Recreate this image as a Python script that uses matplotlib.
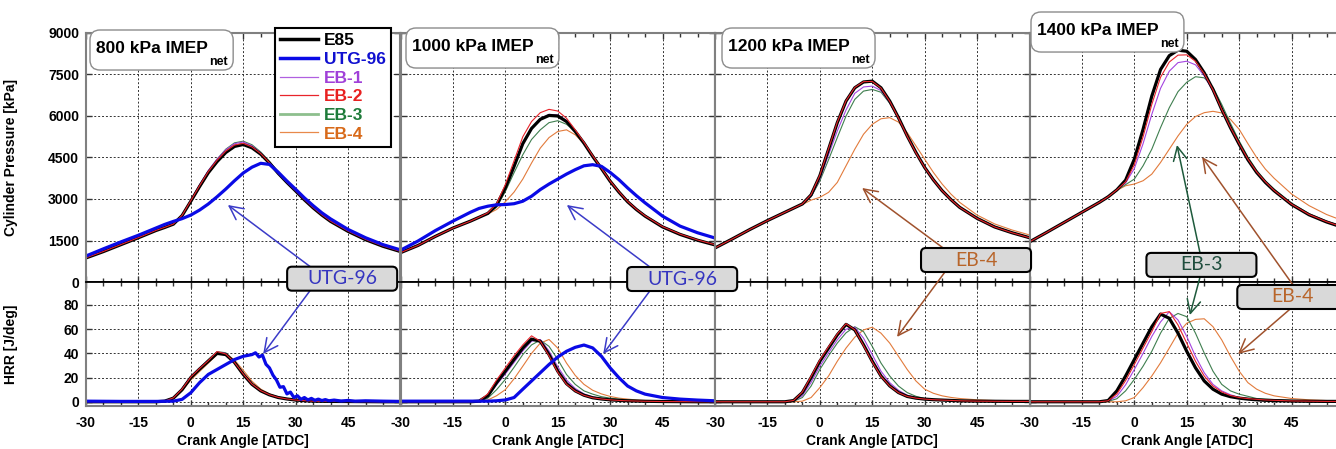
import matplotlib
matplotlib.use("Agg")
import matplotlib.pyplot as plt
from matplotlib.lines import Line2D
from matplotlib.patches import FancyBboxPatch, ConnectionPatch
from matplotlib.text import Annotation
from matplotlib.transforms import Bbox
from matplotlib.ticker import MultipleLocator

plt.rcParams['font.family'] = ['Liberation Sans', 'DejaVu Sans']
plt.rcParams['font.weight'] = 'bold'
plt.rcParams['axes.unicode_minus'] = False

# crank angle grid [deg ATDC]
CA = [-30, -25, -20, -15, -10, -7.5, -5, -2.5, 0, 2.5, 5, 7.5, 10, 12.5, 15, 17.5,
      20, 22.5, 25, 27.5, 30, 32.5, 35, 37.5, 40, 45, 50, 55, 60]

LOADS = ["800", "1000", "1200", "1400"]
FUELS = ["E85", "UTG-96", "EB-1", "EB-2", "EB-3", "EB-4"]

# ---- cylinder pressure [kPa] ----
P800_E85 = [870, 1100, 1350, 1600, 1860, 1970, 2090, 2400, 2920, 3450, 3950, 4350, 4680, 4900, 4970, 4850,
            4620, 4300, 3930, 3600, 3290, 2970, 2680, 2420, 2190, 1830, 1530, 1290, 1100]
P800_EB1 = [880, 1110, 1360, 1610, 1870, 1980, 2100, 2420, 2960, 3520, 4030, 4440, 4780, 5000, 5060, 4920,
            4670, 4330, 3950, 3620, 3300, 2980, 2690, 2430, 2200, 1840, 1540, 1300, 1110]
P800_EB2 = [875, 1105, 1355, 1605, 1865, 1975, 2095, 2410, 2940, 3480, 3990, 4400, 4730, 4950, 5010, 4880,
            4640, 4310, 3940, 3610, 3300, 2980, 2690, 2430, 2200, 1840, 1540, 1300, 1105]
P800_EB3 = [885, 1115, 1365, 1615, 1875, 1985, 2105, 2420, 2950, 3500, 4020, 4440, 4800, 5030, 5090, 4960,
            4700, 4360, 3980, 3640, 3320, 3000, 2700, 2440, 2210, 1850, 1545, 1305, 1115]
P800_EB4 = [880, 1110, 1360, 1610, 1870, 1980, 2100, 2390, 2880, 3400, 3910, 4320, 4660, 4890, 4980, 4880,
            4660, 4340, 3970, 3640, 3320, 3000, 2710, 2450, 2220, 1850, 1550, 1310, 1115]
P800_UTG = [940, 1200, 1450, 1690, 1950, 2080, 2190, 2290, 2420, 2600, 2820, 3080, 3360, 3660, 3940, 4150,
            4290, 4250, 3970, 3650, 3350, 3040, 2760, 2500, 2280, 1900, 1600, 1350, 1160]

P1000_E85 = [1060, 1320, 1650, 1950, 2200, 2340, 2480, 2780, 3400, 4180, 5000, 5550, 5880, 6020, 6000, 5800,
             5440, 5020, 4540, 4100, 3640, 3250, 2900, 2620, 2380, 1990, 1720, 1510, 1340]
P1000_EB1 = [1065, 1325, 1655, 1955, 2205, 2345, 2485, 2770, 3380, 4150, 4980, 5560, 5910, 6060, 6040, 5840,
             5470, 5040, 4550, 4110, 3650, 3260, 2910, 2630, 2390, 2000, 1730, 1520, 1350]
P1000_EB2 = [1060, 1320, 1650, 1950, 2200, 2345, 2500, 2830, 3520, 4380, 5250, 5800, 6120, 6240, 6180, 5920,
             5500, 5050, 4560, 4110, 3650, 3260, 2910, 2630, 2390, 2000, 1730, 1520, 1350]
P1000_EB3 = [1065, 1325, 1655, 1955, 2205, 2340, 2470, 2700, 3270, 3950, 4600, 5150, 5500, 5760, 5830, 5700,
             5440, 5040, 4560, 4110, 3650, 3260, 2910, 2630, 2390, 2000, 1730, 1520, 1350]
P1000_EB4 = [1070, 1330, 1660, 1960, 2210, 2340, 2460, 2620, 2900, 3250, 3720, 4300, 4840, 5220, 5440, 5500,
             5320, 5000, 4600, 4140, 3680, 3290, 2930, 2650, 2400, 2010, 1730, 1520, 1350]
P1000_UTG = [1150, 1480, 1860, 2200, 2520, 2660, 2740, 2790, 2800, 2830, 2920, 3100, 3340, 3540, 3720, 3900,
             4060, 4200, 4240, 4180, 3960, 3700, 3400, 3120, 2860, 2380, 2020, 1780, 1590]

P1200_E85 = [1230, 1560, 1900, 2220, 2520, 2670, 2820, 3150, 3840, 4800, 5760, 6540, 7020, 7230, 7260, 7020,
             6540, 5940, 5280, 4680, 4140, 3690, 3300, 2980, 2700, 2300, 1990, 1780, 1600]
P1200_EB1 = [1235, 1565, 1905, 2225, 2525, 2670, 2815, 3100, 3720, 4600, 5460, 6220, 6820, 7050, 7080, 6920,
             6480, 5920, 5280, 4690, 4150, 3700, 3310, 2990, 2710, 2310, 2000, 1790, 1610]
P1200_EB2 = [1230, 1560, 1900, 2220, 2520, 2670, 2820, 3160, 3860, 4820, 5780, 6550, 7030, 7240, 7250, 7010,
             6530, 5930, 5270, 4670, 4140, 3690, 3300, 2980, 2700, 2300, 1990, 1780, 1600]
P1200_EB3 = [1235, 1565, 1905, 2225, 2525, 2670, 2810, 3080, 3650, 4420, 5220, 6000, 6600, 6900, 6960, 6860,
             6460, 5920, 5290, 4700, 4160, 3710, 3320, 3000, 2720, 2320, 2010, 1800, 1620]
P1200_EB4 = [1240, 1570, 1910, 2230, 2530, 2670, 2800, 2960, 3060, 3240, 3600, 4200, 4800, 5340, 5700, 5900,
             5940, 5780, 5400, 4920, 4440, 3960, 3540, 3180, 2880, 2420, 2100, 1880, 1700]

P1400_E85 = [1450, 1800, 2160, 2520, 2880, 3080, 3330, 3680, 4440, 5520, 6720, 7680, 8180, 8380, 8340, 8040,
             7560, 6960, 6240, 5580, 4980, 4420, 3960, 3600, 3300, 2800, 2430, 2170, 1960]
P1400_EB1 = [1455, 1805, 2165, 2525, 2885, 3080, 3330, 3580, 4100, 5000, 6060, 7000, 7620, 7930, 7980, 7850,
             7450, 6900, 6240, 5600, 5010, 4450, 3990, 3630, 3320, 2820, 2450, 2190, 1980]
P1400_EB2 = [1450, 1800, 2160, 2520, 2880, 3080, 3330, 3620, 4240, 5250, 6420, 7400, 7950, 8200, 8210, 7980,
             7530, 6950, 6240, 5590, 5000, 4440, 3980, 3620, 3310, 2810, 2440, 2180, 1970]
P1400_EB3 = [1455, 1805, 2165, 2525, 2885, 3080, 3320, 3520, 3720, 4200, 4800, 5580, 6300, 6880, 7220, 7420,
             7380, 7040, 6420, 5740, 5100, 4520, 4040, 3660, 3360, 2850, 2470, 2200, 1990]
P1400_EB4 = [1460, 1810, 2170, 2530, 2890, 3080, 3310, 3480, 3540, 3660, 3900, 4320, 4800, 5280, 5700, 5980,
             6120, 6170, 6110, 5880, 5520, 5000, 4500, 4080, 3750, 3180, 2760, 2440, 2200]

# ---- heat release rate [J/deg] ----
H800_E85 = [0, 0, 0, 0, 0, 0.5, 3, 10, 20, 27, 33.5, 40, 39, 32.5, 22.6, 14.4, 9, 5.7, 3.5, 2.3, 1.4, 0.9,
            0.5, 0.4, 0.3, 0.2, 0.1, 0, 0]
H800_EB1 = [0, 0, 0, 0, 0, 0.5, 3.5, 11, 21, 28, 34.5, 41, 40, 33, 23.5, 15, 9.5, 6, 3.7, 2.4, 1.5, 1,
            0.6, 0.4, 0.3, 0.2, 0.1, 0, 0]
H800_EB2 = [0, 0, 0, 0, 0, 0.5, 3.2, 10.5, 20.5, 27.5, 34, 41.5, 39.5, 32.5, 23, 14.6, 9.2, 5.8, 3.6, 2.3,
            1.4, 0.9, 0.5, 0.4, 0.3, 0.2, 0.1, 0, 0]
H800_EB3 = [0, 0, 0, 0, 0, 0.6, 3.5, 11, 21, 28, 35, 41.5, 40.5, 33.5, 24, 15, 9.5, 6, 3.8, 2.5, 1.6, 1,
            0.6, 0.4, 0.3, 0.2, 0.1, 0, 0]
H800_EB4 = [0, 0, 0, 0, 0, 0.3, 2.5, 9, 18, 25, 32, 39, 40, 34.5, 26, 17, 10.5, 6.5, 4, 2.7, 1.8, 1.2,
            0.8, 0.5, 0.4, 0.3, 0.2, 0.1, 0]
# UTG-96 at 800 kPa rings after the peak, so it has its own finer angle list
CA_UTG800 = [-30, -20, -10, -5, -2.5, 0, 2.5, 5, 7.5, 10, 12.5, 15, 17.5, 18.5, 19.5, 20.5, 21.5, 22.5,
             23.5, 24.5, 25.5, 26.5, 27.5, 28.5, 29.5, 30.5, 31.5, 32.5, 33.5, 34.5, 35.5, 36.5, 37.5,
             38.5, 39.5, 41, 43, 45, 47, 50, 55, 60]
H800_UTG = [0.5, 0.3, 0.3, 0.5, 2, 7.5, 15.8, 22.6, 26.7, 30.8, 34.9, 37.6, 39, 40.5, 37, 38.5, 31, 28,
            22, 18, 12, 12.5, 6.5, 8, 3.5, 5, 2, 3.5, 1.5, 2.8, 1.2, 2.2, 1, 1.8, 0.8, 1.4, 0.6, 1.1,
            0.5, 0.8, 0.5, 0.3]

H1000_E85 = [0, 0, 0, 0, 0, 0.5, 5, 15.8, 25.3, 35, 44.4, 51.8, 50, 39, 25.3, 15, 9, 5.4, 3.3, 2.3, 1.6,
             1.1, 0.8, 0.6, 0.4, 0.2, 0.1, 0, 0]
H1000_EB1 = [0, 0, 0, 0, 0, 0.4, 4.5, 14, 23, 32.5, 42, 50, 51.5, 42, 29, 18, 11, 6.5, 4, 2.8, 1.9, 1.3,
             1, 0.7, 0.5, 0.3, 0.1, 0, 0]
H1000_EB2 = [0, 0, 0, 0, 0, 0.8, 6.5, 18, 28, 38, 47, 54.5, 50, 38, 24.5, 14.5, 8.8, 5.3, 3.3, 2.3, 1.6,
             1.1, 0.8, 0.6, 0.4, 0.2, 0.1, 0, 0]
H1000_EB3 = [0, 0, 0, 0, 0, 0.2, 3, 10, 18.5, 28.5, 39, 47, 51, 45.8, 35, 22.6, 14.4, 9, 6.3, 4.2, 3, 2.2,
             1.5, 1.1, 0.8, 0.4, 0.2, 0.1, 0]
H1000_EB4 = [0, 0, 0, 0, 0, 0, 1.5, 5, 10, 19, 29.4, 40, 48.5, 51.5, 44.4, 32, 21.8, 14.4, 9.5, 6.5, 4.4,
             3, 2.2, 1.5, 1, 0.5, 0.3, 0.1, 0]
H1000_UTG = [0.5, 0.5, 0.5, 0.5, 0.5, 0.5, 0.5, 0.8, 1.5, 3.5, 10.4, 17.2, 24, 30.8, 37, 41.7, 45, 46.9,
             44.5, 37.6, 28, 19.9, 13, 9, 6.3, 3.5, 2.2, 1.4, 0.8]

H1200_E85 = [0, 0, 0, 0, 0, 1, 7.6, 20, 33.5, 44.4, 55.3, 64, 59.4, 47.1, 33.5, 21.3, 13.1, 7.6, 4.4, 3,
             2.2, 1.7, 1.4, 1.1, 0.8, 0.5, 0.4, 0.3, 0.3]
H1200_EB1 = [0, 0, 0, 0, 0, 0.6, 5, 16, 29.4, 40.5, 51.2, 60, 61.6, 52.6, 39, 25.3, 15.8, 9.5, 5.4, 3.6,
             2.5, 1.9, 1.5, 1.2, 0.9, 0.6, 0.4, 0.3, 0.3]
H1200_EB2 = [0, 0, 0, 0, 0, 1.1, 8, 21, 34.5, 45.5, 56, 64.5, 59.5, 46.5, 33, 21, 13, 7.5, 4.4, 3, 2.2,
             1.7, 1.4, 1.1, 0.8, 0.5, 0.4, 0.3, 0.3]
H1200_EB3 = [0, 0, 0, 0, 0, 0.4, 3.5, 13, 26.7, 38, 48.5, 57, 62, 58, 45.8, 32, 21.3, 13, 7.6, 4.5, 2.7,
             2, 1.5, 1.2, 1, 0.6, 0.4, 0.3, 0.3]
H1200_EB4 = [0, 0, 0, 0, 0, 0, 0.5, 3.5, 11.7, 21.3, 33.5, 44.4, 53.4, 59.4, 61.6, 56.7, 48.5, 37.6, 26.7,
             17.2, 10.4, 7, 4.9, 3.6, 2.7, 1.6, 1, 0.6, 0.4]

H1400_E85 = [0, 0, 0, 0, 0, 1, 9, 21.3, 34.9, 48.5, 62, 72.5, 69, 56.7, 41.7, 28.1, 17.2, 10.4, 6.3, 4.2,
             3, 2.2, 1.6, 1.2, 1, 0.6, 0.4, 0.3, 0.3]
H1400_EB1 = [0, 0, 0, 0, 0, 0.5, 4.5, 14, 26.7, 40, 54, 66, 74.4, 67.6, 54, 37.6, 24, 14.4, 9, 5.8, 3.5,
             2.7, 2, 1.6, 1.3, 0.8, 0.5, 0.4, 0.3]
H1400_EB2 = [0, 0, 0, 0, 0, 0.8, 6.5, 17.5, 30.8, 44.5, 58, 73, 74.5, 63.5, 48.5, 33.5, 21.3, 13, 8.2, 5.2,
             3.5, 2.6, 2, 1.5, 1.2, 0.7, 0.5, 0.3, 0.3]
H1400_EB3 = [0, 0, 0, 0, 0, 0.3, 2.5, 9, 18.5, 29.4, 41.7, 56.7, 68.9, 73, 70.3, 56.7, 40.3, 25.3, 14.4, 9,
             6.3, 4.5, 2.7, 2.2, 1.8, 1, 0.6, 0.4, 0.3]
H1400_EB4 = [0, 0, 0, 0, 0, 0, 0, 0.8, 3.5, 11.7, 21.3, 32.2, 44.4, 56.7, 64.9, 68.1, 68.6, 62.1, 51.2,
             37.6, 25.3, 15.8, 10.4, 7, 4.9, 2.7, 1.6, 1, 0.7]

P_TICKS = [0, 1500, 3000, 4500, 6000, 7500, 9000]
H_TICKS = [0, 20, 40, 60, 80]
CA_TICKS = [-30, -15, 0, 15, 30, 45]

# styles
LINE_COLOR = {"E85": "black", "UTG-96": "#0a0ae6", "EB-1": "#a444e0", "EB-2": "#e8242b",
              "EB-3": "#3f7f4f", "EB-4": "#e27b3c"}
LINE_WIDTH = {"E85": 2.3, "UTG-96": 2.3, "EB-1": 0.8, "EB-2": 0.8, "EB-3": 0.8, "EB-4": 0.8}
TEXT_COLOR = {"E85": "black", "UTG-96": "#1010d0", "EB-1": "#a040d8", "EB-2": "#e82020",
              "EB-3": "#1e7b3a", "EB-4": "#d86a1a"}
DRAW_ORDER = ["EB-4", "EB-3", "EB-1", "E85", "EB-2", "UTG-96"]

pressure = [
    {"E85": P800_E85, "UTG-96": P800_UTG, "EB-1": P800_EB1, "EB-2": P800_EB2, "EB-3": P800_EB3, "EB-4": P800_EB4},
    {"E85": P1000_E85, "UTG-96": P1000_UTG, "EB-1": P1000_EB1, "EB-2": P1000_EB2, "EB-3": P1000_EB3, "EB-4": P1000_EB4},
    {"E85": P1200_E85, "EB-1": P1200_EB1, "EB-2": P1200_EB2, "EB-3": P1200_EB3, "EB-4": P1200_EB4},
    {"E85": P1400_E85, "EB-1": P1400_EB1, "EB-2": P1400_EB2, "EB-3": P1400_EB3, "EB-4": P1400_EB4},
]
hrr = [
    {"E85": (CA, H800_E85), "UTG-96": (CA_UTG800, H800_UTG), "EB-1": (CA, H800_EB1), "EB-2": (CA, H800_EB2),
     "EB-3": (CA, H800_EB3), "EB-4": (CA, H800_EB4)},
    {"E85": (CA, H1000_E85), "UTG-96": (CA, H1000_UTG), "EB-1": (CA, H1000_EB1), "EB-2": (CA, H1000_EB2),
     "EB-3": (CA, H1000_EB3), "EB-4": (CA, H1000_EB4)},
    {"E85": (CA, H1200_E85), "EB-1": (CA, H1200_EB1), "EB-2": (CA, H1200_EB2), "EB-3": (CA, H1200_EB3),
     "EB-4": (CA, H1200_EB4)},
    {"E85": (CA, H1400_E85), "EB-1": (CA, H1400_EB1), "EB-2": (CA, H1400_EB2), "EB-3": (CA, H1400_EB3),
     "EB-4": (CA, H1400_EB4)},
]

W, H = 1336, 449
fig = plt.figure(figsize=(W / 100, H / 100), dpi=100)

left_px = [86, 400.5, 715, 1029.5]
panel_w = 314.5
top_y0, mid_y, bot_y1 = 33, 282, 406

SPINE_GRAY = "#808080"
GRID = dict(color="#333333", linestyle=(0, (2, 2)), linewidth=0.7)


def style_axes(ax, show_y):
    ax.set_xlim(-30, 60)
    ax.set_xticks(CA_TICKS)
    ax.xaxis.set_minor_locator(MultipleLocator(5))
    ax.grid(True, which="major", **GRID)
    ax.set_axisbelow(True)
    ax.tick_params(axis="both", which="both", direction="in", top=True, right=True,
                   width=1, color="#333333", labelsize=10, pad=5)
    ax.tick_params(which="major", length=4)
    ax.tick_params(which="minor", length=3)
    ax.tick_params(axis="y", which="minor", left=False, right=False)
    for s in ax.spines.values():
        s.set_color(SPINE_GRAY)
        s.set_linewidth(1.5)
    if not show_y:
        ax.tick_params(labelleft=False)


tops, bots = [], []
title_texts = []
for i in range(4):
    x0 = left_px[i] / W
    w = panel_w / W
    ax_t = fig.add_axes([x0, 1 - mid_y / H, w, (mid_y - top_y0) / H])
    ax_b = fig.add_axes([x0, 1 - bot_y1 / H, w, (bot_y1 - mid_y) / H])
    tops.append(ax_t)
    bots.append(ax_b)

    for fuel in DRAW_ORDER:
        if fuel in pressure[i]:
            ax_t.plot(CA, pressure[i][fuel], color=LINE_COLOR[fuel], lw=LINE_WIDTH[fuel])
        if fuel in hrr[i]:
            xs, ys = hrr[i][fuel]
            ax_b.plot(xs, ys, color=LINE_COLOR[fuel], lw=LINE_WIDTH[fuel])

    ax_t.set_ylim(0, 9000)
    ax_t.set_yticks(P_TICKS)
    ax_b.set_ylim(-3.5, 99)
    ax_b.set_yticks(H_TICKS)
    style_axes(ax_t, i == 0)
    style_axes(ax_b, i == 0)
    ax_t.tick_params(labelbottom=False)
    ax_b.tick_params(axis="x", pad=7)
    ax_t.spines["bottom"].set_color("black")
    ax_t.spines["bottom"].set_linewidth(1.3)
    ax_b.spines["top"].set_color("black")
    ax_b.spines["top"].set_linewidth(1.3)
    ax_b.set_xlabel("Crank Angle [ATDC]", fontsize=10, fontweight="bold", labelpad=3)

    # load label: main text plus a dropped "net" subscript, boxed afterwards
    box_left = [90, 406, 722, 1031][i]
    box_top = [30, 28, 28, 12][i]
    t_main = fig.text((box_left + 6) / W, 1 - (box_top + 23) / H, LOADS[i] + " kPa IMEP",
                      ha="left", va="baseline", fontsize=12.5, fontweight="bold", zorder=8)
    t_sub = Annotation("net", xy=(1, 0), xycoords=t_main, xytext=(1.2, -6.5),
                       textcoords="offset points", ha="left", va="baseline",
                       fontsize=9, fontweight="bold", zorder=8)
    fig.add_artist(t_sub)
    title_texts.append((t_main, t_sub, box_left, box_top))

tops[0].set_ylabel("Cylinder Pressure [kPa]", fontsize=10, fontweight="bold")
bots[0].set_ylabel("HRR [J/deg]", fontsize=10, fontweight="bold")
tops[0].yaxis.set_label_coords((18 - 86) / panel_w, 0.5)
bots[0].yaxis.set_label_coords((18 - 86) / panel_w, 0.5)

# legend
handles = [
    Line2D([], [], color="black", lw=2.5),
    Line2D([], [], color="#0a0ae6", lw=2.5),
    Line2D([], [], color="#b060e0", lw=0.9),
    Line2D([], [], color="#e8242b", lw=0.9),
    Line2D([], [], color="#8dbf8d", lw=2),
    Line2D([], [], color="#e8894a", lw=0.9),
]
leg = tops[0].legend(handles, FUELS, loc="upper left", bbox_to_anchor=(0.601, 1.02),
                     borderaxespad=0, fancybox=False, edgecolor="black", framealpha=1,
                     prop={"size": 12.5, "weight": "bold"}, handlelength=2.2, handletextpad=0.3,
                     labelspacing=0.2, borderpad=0.3)
leg.get_frame().set_linewidth(1.5)
leg.set_zorder(20)
for txt, fuel in zip(leg.get_texts(), FUELS):
    txt.set_color(TEXT_COLOR[fuel])

# callout boxes and arrows (figure level so they sit above every panel)
BOX_W, BOX_H = 110 / 3.494, 24 / (249 / 9000)
callouts = [
    # panel, label, text colour, box centre (top axes data)
    (0, "UTG-96", "#3535c0", (43.3, 120)),
    (1, "UTG-96", "#3535c0", (50.6, 108)),
    (2, "EB-4", "#b8652a", (44.7, 795)),
    (3, "EB-3", "#1f4d3d", (19.2, 618)),
    (3, "EB-4", "#b8652a", (45.2, -542)),
]
arrows = [
    # panel, colour, (tail axes, tail), (head axes, head)
    (0, "#3b3bc8", ("t", (34.1, 560)), ("t", (10.6, 2783))),
    (0, "#3b3bc8", ("b", (34.1, 91.8)), ("b", (20.7, 39.5))),
    (1, "#3b3bc8", ("t", (41.4, 540)), ("t", (17.6, 2783))),
    (1, "#3b3bc8", ("b", (41.4, 91.8)), ("b", (28.0, 39.5))),
    (2, "#a0522d", ("t", (35.3, 1229)), ("t", (12.1, 3397))),
    (2, "#a0522d", ("t", (35.8, 361)), ("b", (22.1, 53.6))),
    (3, "#1e5a3c", ("t", (18.8, 1048)), ("t", (12.2, 4951))),
    (3, "#1e5a3c", ("t", (18.8, 181)), ("b", (15.9, 71.7))),
    (3, "#a0522d", ("t", (45.4, -108)), ("t", (19.4, 4517))),
    (3, "#a0522d", ("b", (44.6, 76.7)), ("b", (29.7, 39.5))),
]

for p, col, (ta, tail), (ha_, head) in arrows:
    axA = tops[p] if ta == "t" else bots[p]
    axB = tops[p] if ha_ == "t" else bots[p]
    con = ConnectionPatch(xyA=tail, coordsA=axA.transData, xyB=head, coordsB=axB.transData,
                          arrowstyle="->,head_length=0.7,head_width=0.35", mutation_scale=14,
                          color=col, lw=1.1, shrinkA=0, shrinkB=0, zorder=4)
    fig.add_artist(con)

for p, label, tcol, (cx, cy) in callouts:
    ax = tops[p]
    box = FancyBboxPatch((cx - BOX_W / 2, cy - BOX_H / 2), BOX_W, BOX_H,
                         boxstyle="round,pad=0,rounding_size=1.4", mutation_aspect=126,
                         fc="#d9d9d9", ec="black", lw=1.5, transform=ax.transData, zorder=5)
    fig.add_artist(box)
    fig.text(cx, cy, label, transform=ax.transData, ha="center", va="center",
             fontsize=14, fontweight="normal", family=["Lato", "DejaVu Sans"], color=tcol, zorder=6)

# rounded frames around the load labels, sized from the rendered text
fig.canvas.draw()
renderer = fig.canvas.get_renderer()
for t_main, t_sub, box_left, box_top in title_texts:
    bb_sub = t_sub.get_window_extent(renderer)
    right_px = bb_sub.x1 + 5
    bottom_px = H - bb_sub.y0 + 2
    frame = FancyBboxPatch((box_left / W, 1 - bottom_px / H), (right_px - box_left) / W,
                           (bottom_px - box_top) / H,
                           boxstyle="round,pad=0,rounding_size=%f" % (10 / W),
                           mutation_aspect=W / H, fc="white", ec="#8c8c8c", lw=1,
                           transform=fig.transFigure, zorder=7)
    fig.add_artist(frame)

fig.savefig("out.png", dpi=100)
